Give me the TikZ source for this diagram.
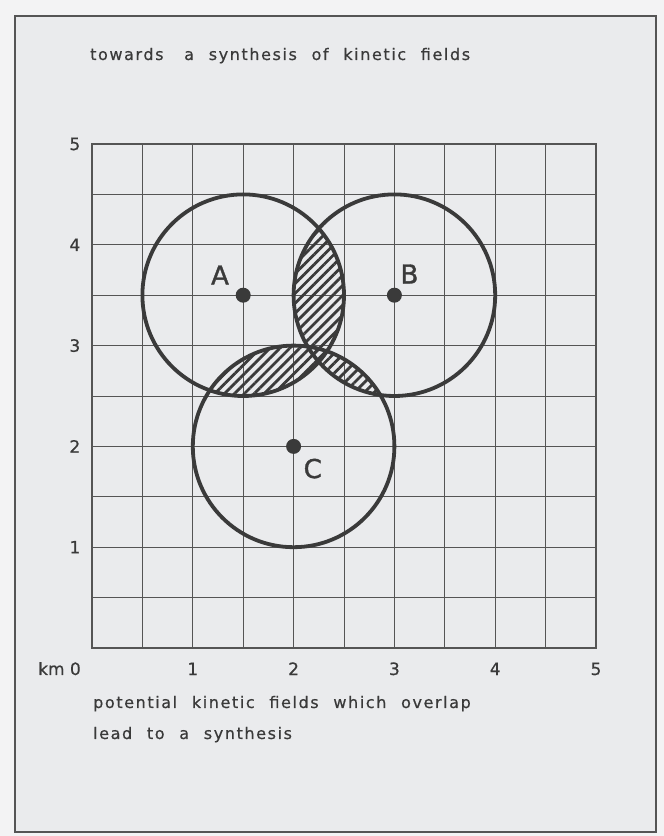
\documentclass[tikz,border=0pt]{standalone}
\usepackage{fontspec}
\setmainfont{DejaVu Sans}[LetterSpace=10,WordSpace=2.2,FakeBold=0.6]
\newfontfamily\labfont{DejaVu Sans}[FakeBold=0.6]
\newfontfamily\letfont{DejaVu Sans}[FakeBold=1.4]
\usetikzlibrary{patterns.meta}
\definecolor{paper}{HTML}{EAEBED}
\definecolor{outer}{HTML}{F3F3F4}
\definecolor{ink}{HTML}{3A3A3A}
\definecolor{gridc}{HTML}{555555}
\tikzset{
  frame/.style={draw=gridc,line width=1.8pt,fill=paper},
  gridline/.style={draw=gridc,line width=0.9pt},
  field/.style={draw=ink,line width=3.8pt},
  hatch/.style={pattern={Lines[angle=45,distance=7pt,line width=2.8pt]},pattern color=ink},
  centre/.style={circle,fill=ink,inner sep=0pt,minimum size=15pt},
  txt/.style={text=ink,font=\fontsize{16}{18}\selectfont,inner sep=0pt},
  num/.style={text=ink,font=\labfont\fontsize{17}{19}\selectfont,inner sep=0pt},
  letter/.style={text=ink,font=\letfont\fontsize{26}{28}\selectfont,inner sep=0pt}
}
\begin{document}
\begin{tikzpicture}[x=1pt,y=1pt]
\fill[outer] (0,0) rectangle (664,836);
\useasboundingbox (0,0) rectangle (664,836);
\draw[frame] (15,4) rectangle (656,820);
\node[txt,anchor=base west] (title) at (90,776) {towards\hspace{6pt} a synthesis of kinetic fields};
\node[txt,anchor=base west] (cap1) at (93,128) {potential kinetic fields which overlap};
\node[txt,anchor=base west] (cap2) at (93,97) {lead to a synthesis};
\node[num,anchor=base east] (km) at (81,161) {km 0};
\begin{scope}[shift={(92pt,188pt)},x=100.8pt,y=100.8pt]
  \foreach \i in {0,0.5,...,5} {
    \draw[gridline] (\i,0) -- (\i,5);
    \draw[gridline] (0,\i) -- (5,\i);
  }
  \draw[gridline,line width=1.2pt] (0,0) rectangle (5,5);
  \foreach \k in {1,...,5} {
    \node[num,anchor=base] (xl\k) at (\k,-0.268) {\k};
    \node[num] (yl\k) at (-0.17,\k) {\k};
  }
  \coordinate (A) at (1.5,3.5);
  \coordinate (B) at (3,3.5);
  \coordinate (C) at (2,2);
  \begin{scope}
    \clip (A) circle[radius=100.8pt];
    \fill[hatch] (B) circle[radius=100.8pt];
    \fill[hatch] (C) circle[radius=100.8pt];
  \end{scope}
  \begin{scope}
    \clip (B) circle[radius=100.8pt];
    \fill[hatch] (C) circle[radius=100.8pt];
  \end{scope}
  \draw[field] (A) circle[radius=100.8pt];
  \draw[field] (B) circle[radius=100.8pt];
  \draw[field] (C) circle[radius=100.8pt];
  \node[centre] (dA) at (A) {};
  \node[centre] (dB) at (B) {};
  \node[centre] (dC) at (C) {};
  \node[letter] (lA) at (1.27,3.7) {A};
  \node[letter] (lB) at (3.15,3.71) {B};
  \node[letter] (lC) at (2.19,1.78) {C};
\end{scope}
\end{tikzpicture}
\end{document}
